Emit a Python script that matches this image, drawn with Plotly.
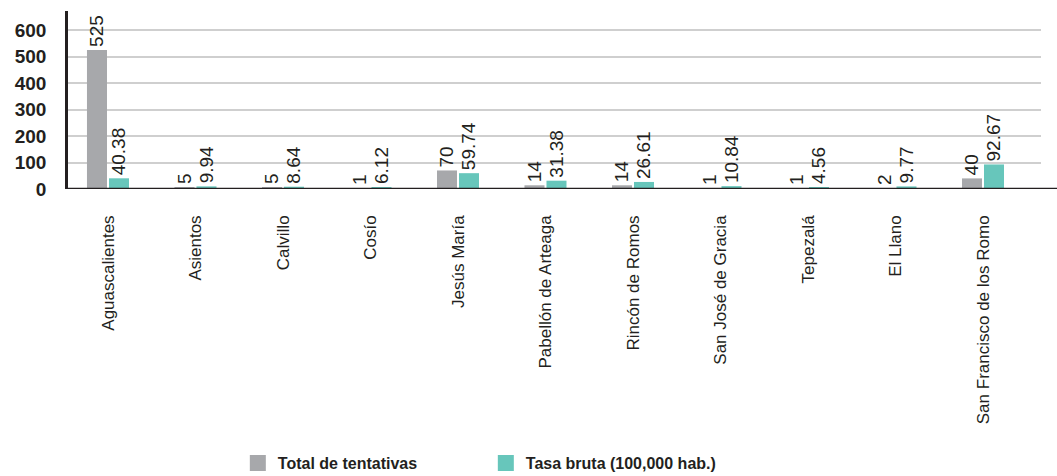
import plotly.graph_objects as go

categories = ["Aguascalientes", "Asientos", "Calvillo", "Cosío", "Jesús María",
              "Pabellón de Arteaga", "Rincón de Romos", "San José de Gracia",
              "Tepezalá", "El Llano", "San Francisco de los Romo"]
total_tentativas = [525, 5, 5, 1, 70, 14, 14, 1, 1, 2, 40]
tasa_bruta = [40.38, 9.94, 8.64, 6.12, 59.74, 31.38, 26.61, 10.84, 4.56, 9.77, 92.67]
y_ticks = [0, 100, 200, 300, 400, 500, 600]
series_names = ["Total de tentativas", "Tasa bruta (100,000 hab.)"]

FONT = "Liberation Sans"
GRAY = "#a7a8ab"
TEAL = "#67c6bb"
INK = "#231f20"

fig = go.Figure()
for name, vals, col, fmt in [(series_names[0], total_tentativas, GRAY, "{:d}"),
                             (series_names[1], tasa_bruta, TEAL, "{:.2f}")]:
    fig.add_trace(go.Bar(
        x=categories, y=vals, name=name, showlegend=False,
        marker=dict(color=col, line=dict(width=0)),
        text=[fmt.format(v) for v in vals], textposition="outside",
        textangle=-90, cliponaxis=False, constraintext="none",
        textfont=dict(family=FONT, size=19, color=INK),
    ))
# legend entries (square swatches)
for name, col in [(series_names[0], GRAY), (series_names[1], TEAL)]:
    fig.add_trace(go.Scatter(
        x=[None], y=[None], mode="markers", name=name,
        marker=dict(symbol="square", size=17, color=col),
    ))

fig.update_layout(
    width=1057, height=476,
    margin=dict(l=68, r=16, t=11, b=287, autoexpand=False),
    paper_bgcolor="white", plot_bgcolor="white",
    barmode="group", bargap=0.497, bargroupgap=0.09,
    font=dict(family=FONT, color=INK),
    showlegend=True,
    legend=dict(
        orientation="h", xref="container", yref="container",
        x=0.225, y=0.027, xanchor="left", yanchor="middle",
        font=dict(family=FONT, size=16, color=INK, weight="bold"),
        entrywidth=203, entrywidthmode="pixels",
        traceorder="normal", itemsizing="trace",
    ),
    xaxis=dict(
        range=[-0.457, 10.663],
        tickangle=-90, showgrid=False, showline=False, ticks="",
        ticklabelstandoff=22, automargin=False,
        tickfont=dict(family=FONT, size=17, color=INK),
    ),
    yaxis=dict(
        range=[0, 672], tickvals=y_ticks, showgrid=True,
        gridcolor="#cfcfcf", gridwidth=1.5, zeroline=False,
        showline=True, linecolor=INK, linewidth=2.5,
        ticks="", ticklabelstandoff=15, automargin=False,
        tickfont=dict(family=FONT, size=19, color=INK, weight="bold"),
    ),
    shapes=[dict(type="line", xref="paper", yref="y", x0=0, x1=1.017,
                 y0=0, y1=0, line=dict(color=INK, width=2.5))],
)

fig.write_html("out.html", config={"displayModeBar": False},
               post_script="document.body.style.margin='0';")
